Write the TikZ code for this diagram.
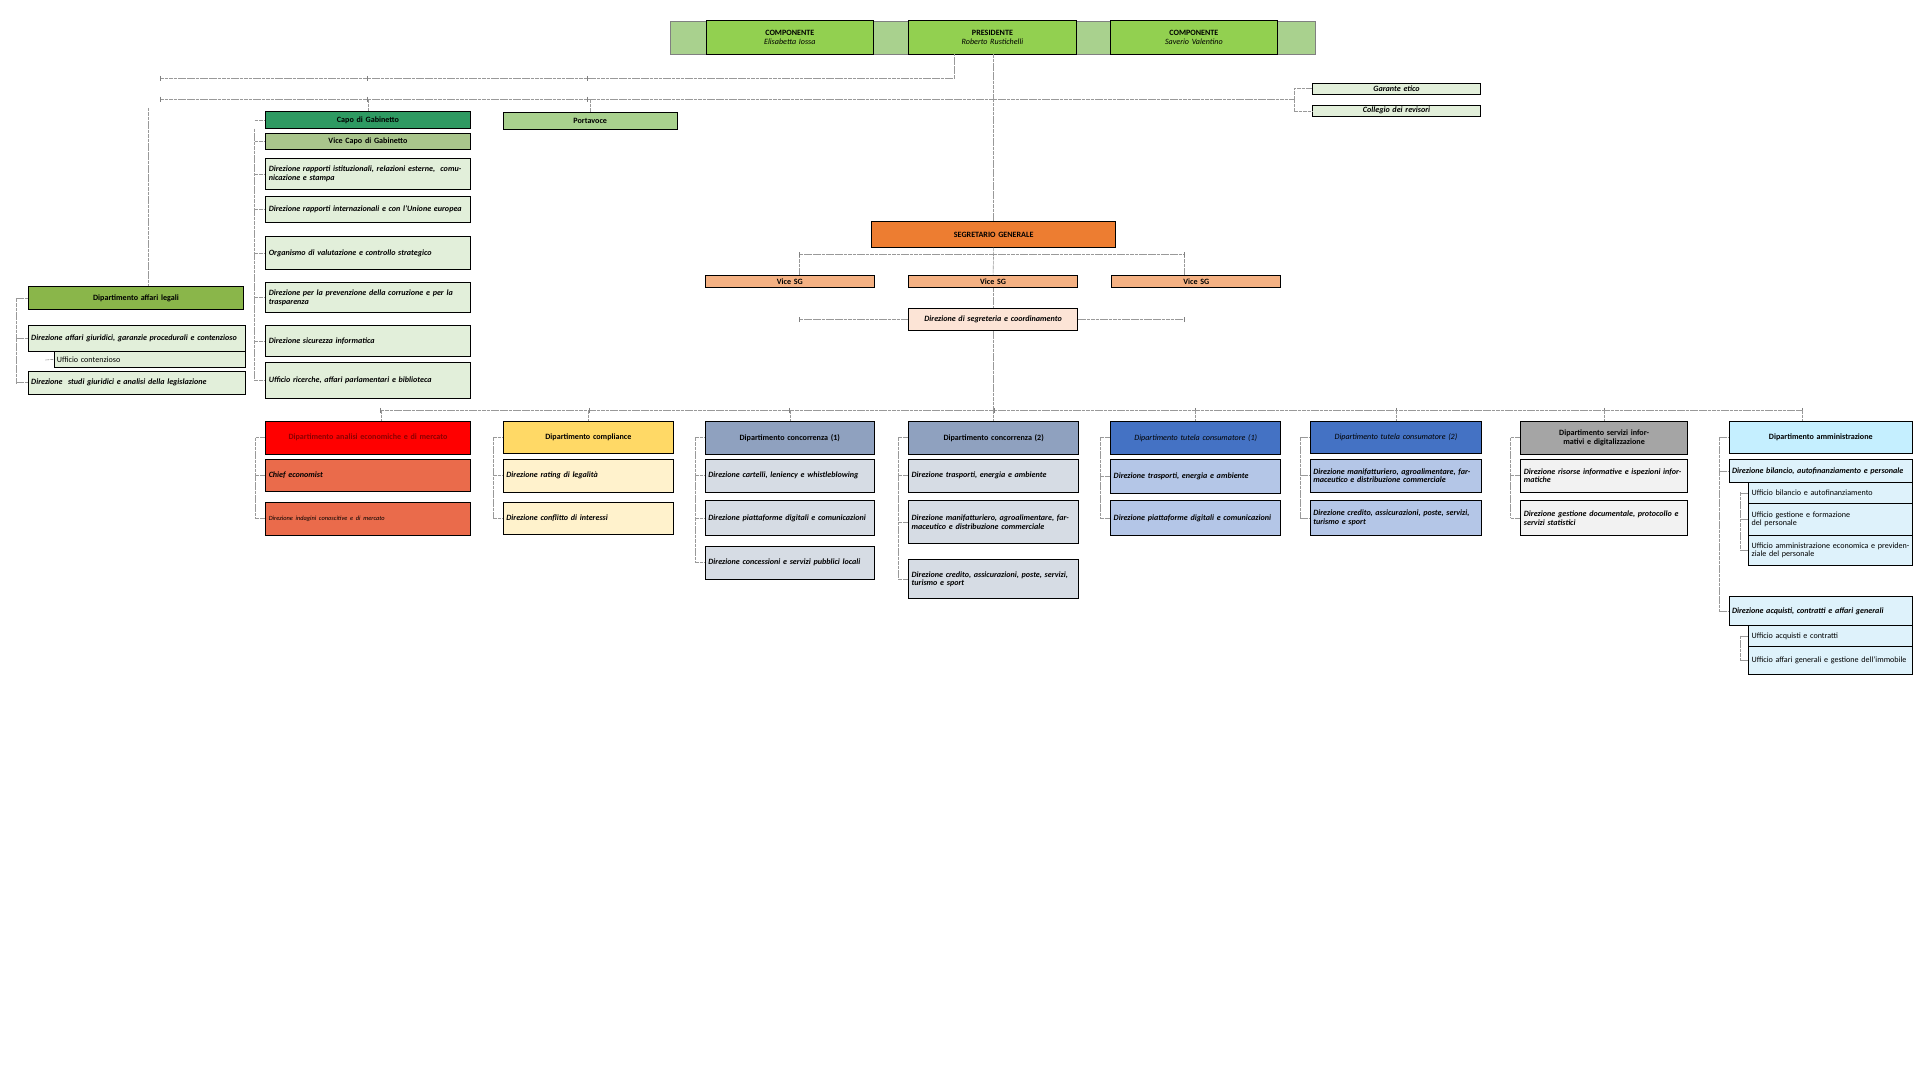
\documentclass[tikz,border=0pt]{standalone}
\usepackage{fontspec}
\setmainfont{Carlito}
\begin{document}
\begin{tikzpicture}[x=1pt,y=-1pt,
 box/.style={draw=black,line width=0.6pt,inner sep=1pt,font=\fontsize{6.6}{7}\selectfont},
 conn/.style={draw=gray!80,line width=0.5pt,dash pattern=on 3pt off 0.6pt}]
\useasboundingbox (0,0) rectangle (1568,882);
\fill[white] (0,0) rectangle (1568,882);
\newcommand{\bx}[8]{\definecolor{col#1}{HTML}{#6}\node[box,fill=col#1,minimum width={(#4-#2)*1pt},minimum height={(#5-#3)*1pt},text width={(#4-#2-5)*1pt},#8] (#1) at ({(#2+#4)/2},{(#3+#5)/2}) {#7};}
\definecolor{lg}{HTML}{A9D18E}
% top bar
\draw[fill=lg,draw=gray] (547,17) rectangle (1074,44);
\bx{c1}{577}{17}{713}{44}{92D050}{\textbf{COMPONENTE}\\\textit{Elisabetta Iossa}}{align=center}
\bx{pres}{742}{17}{879}{44}{92D050}{\textbf{PRESIDENTE}\\\textit{Roberto Rustichelli}}{align=center}
\bx{c2}{907}{17}{1043}{44}{92D050}{\textbf{COMPONENTE}\\\textit{Saverio Valentino}}{align=center}
% right
\bx{ge}{1072}{68}{1209}{77}{E2EFDA}{\textbf{\textit{Garante etico}}}{align=center}
\bx{cr}{1072}{86}{1209}{95}{E2EFDA}{\textbf{\textit{Collegio dei revisori}}}{align=center}
% gabinetto
\bx{capo}{217}{91}{384}{105}{2E9A62}{\textbf{Capo di Gabinetto}}{align=center}
\bx{vcapo}{217}{109}{384}{122}{A9C58C}{\textbf{Vice Capo di Gabinetto}}{align=center}
\bx{g1}{217}{129}{384}{155}{E2EFDA}{\textbf{\textit{Direzione rapporti istituzionali, relazioni esterne,\ \ comunicazione e stampa}}}{align=left}
\bx{g2}{217}{160}{384}{182}{E2EFDA}{\textbf{\textit{Direzione rapporti internazionali e con l'Unione europea}}}{align=left}
\bx{g3}{217}{193}{384}{220}{E2EFDA}{\textbf{\textit{Organismo di valutazione e controllo strategico}}}{align=left}
\bx{g4}{217}{231}{384}{255}{E2EFDA}{\textbf{\textit{Direzione per la prevenzione della corruzione e per la trasparenza}}}{align=left}
\bx{g5}{217}{266}{384}{291}{E2EFDA}{\textbf{\textit{Direzione sicurezza informatica}}\\[6pt]}{align=left}
\bx{g6}{217}{296}{384}{325}{E2EFDA}{\textbf{\textit{Ufficio ricerche, affari parlamentari e biblioteca}}}{align=left}
\bx{porta}{411}{92}{553}{106}{A9D18E}{\textbf{Portavoce}}{align=center}
% legali
\bx{leg}{23}{234}{199}{253}{8AB64A}{\textbf{Dipartimento affari legali}}{align=center}
\bx{l1}{23}{266}{200}{287}{E2EFDA}{\textbf{\textit{Direzione affari giuridici, garanzie procedurali e contenzioso}}}{align=left}
\bx{l1a}{44}{287}{200}{300}{E2EFDA}{Ufficio contenzioso}{align=left}
\bx{l2}{23}{303}{200}{322}{E2EFDA}{\textbf{\textit{Direzione\ \ studi giuridici e analisi della legislazione}}}{align=left}
% SG
\bx{sg}{712}{181}{911}{202}{ED7D31}{\textbf{SEGRETARIO GENERALE}}{align=center}
\bx{v1}{576}{225}{714}{235}{F4B183}{\textbf{Vice SG}}{align=center}
\bx{v2}{742}{225}{880}{235}{F4B183}{\textbf{Vice SG}}{align=center}
\bx{v3}{908}{225}{1046}{235}{F4B183}{\textbf{Vice SG}}{align=center}
\bx{dsc}{742}{252}{880}{270}{FCE4D6}{\textbf{\textit{Direzione di segreteria e coordinamento}}}{align=center}
% departments
\bx{d1}{217}{344}{384}{371}{FF0000}{\textcolor[HTML]{8B0000}{\textbf{Dipartimento analisi economiche e di mercato}}\\[4pt]}{align=center}
\bx{d1a}{217}{375}{384}{401}{EA6B4B}{\textbf{\textit{Chief economist}}}{align=left}
\bx{d1b}{217}{410}{384}{437}{EA6B4B}{\fontsize{5.2}{6}\selectfont\textit{Direzione indagini conoscitive e di mercato}}{align=left}
\bx{d2}{411}{344}{550}{370}{FFD966}{\textbf{Dipartimento compliance}\\[6pt]}{align=center}
\bx{d2a}{411}{375}{550}{402}{FFF2CC}{\textbf{\textit{Direzione rating di legalità}}\\[6pt]}{align=left}
\bx{d2b}{411}{410}{550}{436}{FFF2CC}{\textbf{\textit{Direzione conflitto di interessi}}\\[6pt]}{align=left}
\bx{d3}{576}{344}{714}{371}{8FA1BF}{\textbf{Dipartimento concorrenza (1)}\\[5pt]}{align=center}
\bx{d3a}{576}{375}{714}{402}{D6DCE4}{\textbf{\textit{Direzione cartelli, leniency e whistleblowing}}}{align=left}
\bx{d3b}{576}{409}{714}{437}{D6DCE4}{\textbf{\textit{Direzione piattaforme digitali e comunicazioni}}}{align=left}
\bx{d3c}{576}{446}{714}{473}{D6DCE4}{\textbf{\textit{Direzione concessioni e servizi pubblici locali}}}{align=left}
\bx{d4}{742}{344}{881}{371}{8FA1BF}{\textbf{Dipartimento concorrenza (2)}\\[5pt]}{align=center}
\bx{d4a}{742}{375}{881}{402}{D6DCE4}{\textbf{\textit{Direzione trasporti, energia e ambiente}}}{align=left}
\bx{d4b}{742}{409}{881}{444}{D6DCE4}{\textbf{\textit{Direzione manifatturiero, agroalimentare, farmaceutico e distribuzione commerciale}}}{align=left}
\bx{d4c}{742}{457}{881}{489}{D6DCE4}{\textbf{\textit{Direzione credito, assicurazioni, poste, servizi, turismo e sport}}}{align=left}
\bx{d5}{907}{344}{1046}{371}{4472C4}{\textit{Dipartimento tutela consumatore (1)}}{align=center}
\bx{d5a}{907}{375}{1046}{403}{B4C6E7}{\textbf{\textit{Direzione trasporti, energia e ambiente}}}{align=left}
\bx{d5b}{907}{409}{1046}{437}{B4C6E7}{\textbf{\textit{Direzione piattaforme digitali e comunicazioni}}}{align=left}
\bx{d6}{1070}{344}{1210}{370}{4472C4}{\textit{Dipartimento tutela consumatore (2)}}{align=center}
\bx{d6a}{1070}{375}{1210}{402}{B4C6E7}{\textbf{\textit{Direzione manifatturiero, agroalimentare, farmaceutico e distribuzione commerciale}}}{align=left}
\bx{d6b}{1070}{409}{1210}{437}{B4C6E7}{\textbf{\textit{Direzione credito, assicurazioni, poste, servizi, turismo e sport}}}{align=left}
\bx{d7}{1242}{344}{1378}{371}{A5A5A5}{\textbf{Dipartimento servizi informativi e digitalizzazione}}{align=center}
\bx{d7a}{1242}{375}{1378}{402}{F2F2F2}{\textbf{\textit{Direzione risorse informative e ispezioni informatiche}}}{align=left}
\bx{d7b}{1242}{409}{1378}{437}{F2F2F2}{\textbf{\textit{Direzione gestione documentale, protocollo e servizi statistici}}}{align=left}
\bx{d8}{1412}{344}{1562}{370}{C5EFFF}{\textbf{Dipartimento amministrazione}}{align=center}
\bx{d8a}{1412}{375}{1562}{394}{DEF2FB}{\textbf{\textit{Direzione bilancio, autofinanziamento e personale}}}{align=left}
\bx{d8a1}{1428}{394}{1562}{411}{DEF2FB}{Ufficio bilancio e autofinanziamento\\[4pt]}{align=left}
\bx{d8a2}{1428}{411}{1562}{437}{DEF2FB}{Ufficio gestione e formazione\\del personale}{align=left}
\bx{d8a3}{1428}{437}{1562}{462}{DEF2FB}{Ufficio amministrazione economica e previdenziale del personale}{align=left}
\bx{d8b}{1412}{487}{1562}{511}{DEF2FB}{\textbf{\textit{Direzione acquisti, contratti e affari generali}}}{align=left}
\bx{d8b1}{1428}{511}{1562}{528}{DEF2FB}{Ufficio acquisti e contratti}{align=left}
\bx{d8b2}{1428}{528}{1562}{551}{DEF2FB}{Ufficio affari generali e gestione dell'immobile}{align=left}
% connectors top
\coordinate (h1l) at (131,64); \coordinate (h1r) at (779,64);
\coordinate (h2l) at (131,81); \coordinate (h2r) at (1057,81);
\draw[conn] (h1l) -- (h1r) -- (h1r|-pres.south);
\draw[conn] (h2l) -- (h2r);
\draw[conn] (pres.south-|sg.north) -- (sg.north);
\draw[conn] (h2r) -- (h2r|-ge.west) -- (ge.west);
\draw[conn] (h2r|-cr.west) -- (cr.west);
\draw[conn] (h2r) -- (h2r|-cr.west);
\foreach \x in {131,300,480} {\draw[gray,line width=0.6pt] (\x,62) -- (\x,66); \draw[gray,line width=0.6pt] (\x,79) -- (\x,83);}
\coordinate (lg0) at (121,88);
\draw[conn] (lg0) -- (lg0|-leg.north);
\draw[conn] (h2l-|capo.north) -- (capo.north);
\draw[conn] (h2l-|porta.north) -- (porta.north);
\coordinate (gs) at (208,105);
\draw[conn] (gs) -- (gs|-g6.west);
\foreach \n in {capo,vcapo,g1,g2,g3,g4,g5,g6} \draw[conn] (gs|-\n.west) -- (\n.west);
\coordinate (ls) at (13,244);
\draw[conn] (ls) -- (ls|-l2.west);
\foreach \n in {leg,l1,l2} \draw[conn] (ls|-\n.west) -- (\n.west);
\coordinate (lsa) at (37,294);
\draw[conn] (lsa) -- (l1a.west);
% SG
\coordinate (sgl) at (653,208); \coordinate (sgr) at (967,208);
\draw[conn] (sgl) -- (sgr);
\draw[conn] (sg.south) -- (v2.north);
\draw[conn] (sgl) -- (sgl|-v1.north); \draw[conn] (sgr) -- (sgr|-v3.north);
\coordinate (dl) at (653,261); \coordinate (dr) at (967,261);
\draw[conn] (dl) -- (dsc.west); \draw[conn] (dsc.east) -- (dr);
\foreach \p in {sgl,sgr,dl,dr} \draw[gray,line width=0.6pt] ([yshift=-2]\p) -- ([yshift=2]\p);
\coordinate (bl) at (311,335); \coordinate (br) at (1472,335);
\draw[conn] (v2.south) -- (dsc.north);
\draw[conn] (dsc.south) -- (dsc.south|-bl);
\draw[conn] (bl) -- (br);
\foreach \x in {311,481,645,812,976,1140,1310,1472} \draw[gray,line width=0.6pt] (\x,333) -- (\x,337);
\draw[conn] (bl) -- (d1.north-|bl);
\foreach \n in {d2,d3,d4,d5,d6,d7} \draw[conn] (bl-|\n.north) -- (\n.north);
\draw[conn] (br) -- (br|-d8.north);
% column spines
\newcommand{\spine}[3]{\coordinate (s#1) at ([xshift=-8pt]#1.west); \draw[conn] (s#1) -- (s#1|-#2.west); \foreach \n in {#1,#3} \draw[conn] (s#1|-\n.west) -- (\n.west);}
\spine{d1}{d1b}{d1a,d1b}
\spine{d2}{d2b}{d2a,d2b}
\spine{d3}{d3c}{d3a,d3b,d3c}
\spine{d4}{d4c}{d4a,d4b,d4c}
\spine{d5}{d5b}{d5a,d5b}
\spine{d6}{d6b}{d6a,d6b}
\spine{d7}{d7b}{d7a,d7b}
\spine{d8}{d8b}{d8a,d8b}
\coordinate (u1) at (1421,402); \draw[conn] (u1) -- (u1|-d8a3.west);
\foreach \n in {d8a1,d8a2,d8a3} \draw[conn] (u1|-\n.west) -- (\n.west);
\coordinate (u2) at (1421,519); \draw[conn] (u2) -- (u2|-d8b2.west);
\foreach \n in {d8b1,d8b2} \draw[conn] (u2|-\n.west) -- (\n.west);
\end{tikzpicture}
\end{document}
